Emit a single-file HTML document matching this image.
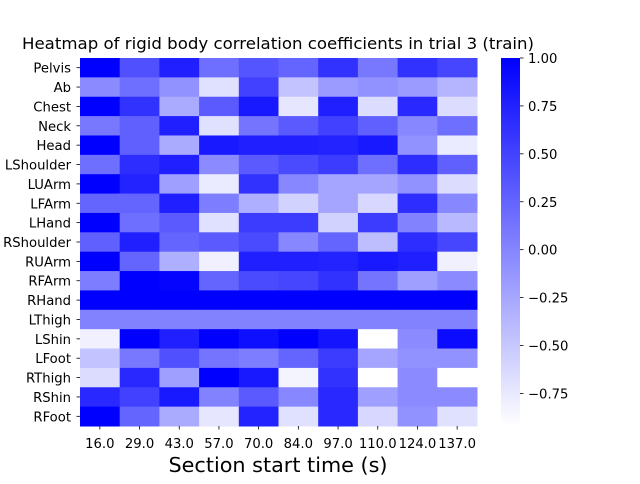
<!DOCTYPE html>
<html><head><meta charset="utf-8"><style>
body{margin:0;background:#fff;font-family:"DejaVu Sans","Liberation Sans",sans-serif;}
svg text{font-family:"DejaVu Sans","Liberation Sans",sans-serif;}
</style></head><body>
<svg width="640" height="480" xmlns="http://www.w3.org/2000/svg">
<defs><linearGradient id="cb" x1="0" y1="1" x2="0" y2="0"><stop offset="0" stop-color="#fff"/><stop offset="1" stop-color="#00f"/></linearGradient></defs>
<text x="278" y="49" text-anchor="middle" font-size="16" textLength="512" lengthAdjust="spacingAndGlyphs" fill="#000">Heatmap of rigid body correlation coefficients in trial 3 (train)</text>
<g id="cells"></g><g id="ylab"></g><g id="xlab"></g>
<rect x="501" y="58" width="19" height="368" fill="url(#cb)"/>
<g id="cbt"></g>
<text x="278" y="472" text-anchor="middle" font-size="20" textLength="219" lengthAdjust="spacingAndGlyphs" fill="#000">Section start time (s)</text>
</svg>
<script>
const rows=["Pelvis","Ab","Chest","Neck","Head","LShoulder","LUArm","LFArm","LHand","RShoulder","RUArm","RFArm","RHand","LThigh","LShin","LFoot","RThigh","RShin","RFoot"];
const cols=["16.0","29.0","43.0","57.0","70.0","84.0","97.0","110.0","124.0","137.0"];
const values=[
[1.00,0.40,0.77,0.17,0.36,0.25,0.62,0.10,0.62,0.47],
[-0.05,0.17,-0.09,-0.69,0.51,-0.47,-0.17,-0.09,-0.17,-0.36],
[1.00,0.62,-0.28,0.32,0.81,-0.73,0.77,-0.66,0.70,-0.66],
[0.10,0.28,0.77,-0.69,0.13,0.32,0.51,0.28,-0.02,0.17],
[1.00,0.28,-0.28,0.81,0.77,0.77,0.74,0.81,-0.09,-0.77],
[0.17,0.66,0.77,-0.05,0.32,0.44,0.55,0.17,0.66,0.28],
[1.00,0.74,-0.20,-0.77,0.62,-0.02,-0.24,-0.24,-0.09,-0.66],
[0.25,0.25,0.77,0.06,-0.32,-0.58,-0.24,-0.62,0.66,-0.02],
[1.00,0.17,0.32,-0.69,0.55,0.55,-0.58,0.55,0.02,-0.39],
[0.28,0.77,0.25,0.32,0.44,-0.02,0.25,-0.43,0.66,0.47],
[1.00,0.25,-0.32,-0.81,0.77,0.77,0.74,0.81,0.77,-0.81],
[0.06,1.00,0.96,0.25,0.44,0.47,0.62,0.13,-0.20,-0.05],
[1,1,1,1,1,1,1,1,1,1],
[0.02,0.02,0.02,0.02,0.02,0.02,0.02,0.02,0.02,0.02],
[-0.81,1.00,0.77,1.00,0.89,1.00,0.85,-0.92,-0.05,0.92],
[-0.47,0.10,0.40,0.13,0.06,0.25,0.55,-0.24,-0.09,-0.09],
[-0.66,0.70,-0.20,1.00,0.81,-0.84,0.62,-0.92,-0.05,-0.92],
[0.70,0.51,0.81,0.02,0.32,-0.02,0.70,-0.20,-0.05,-0.05],
[1.00,0.25,-0.28,-0.73,0.74,-0.69,0.70,-0.62,-0.09,-0.69]];
const cbTicks=[1.0,0.75,0.5,0.25,0.0,-0.25,-0.5,-0.75];
const vmin=-0.92,vmax=1.0;
const X0=80,X1=477,Y0=58,Y1=426;
const cw=(X1-X0)/cols.length,rh=(Y1-Y0)/rows.length;
const xs=i=>X0+i*cw, ys=j=>Y0+j*rh;
const cy=v=>Y0+(vmax-v)/(vmax-vmin)*(Y1-Y0);
function color(v){const t=Math.max(0,Math.min(1,(v-vmin)/(vmax-vmin)));const g=Math.round(255*(1-t));return `rgb(${g},${g},255)`;}
const NS="http://www.w3.org/2000/svg";
function mk(tag,attrs,parent){const e=document.createElementNS(NS,tag);for(const k in attrs)e.setAttribute(k,attrs[k]);document.getElementById(parent).appendChild(e);return e;}
values.forEach((row,j)=>row.forEach((v,i)=>{
 const r=mk("rect",{x:xs(i),y:ys(j),width:cw+0.5,height:rh+0.5,fill:color(v)},"cells");
 
 
}));
rows.forEach((n,j)=>{
 const y=ys(j)+rh/2;
 mk("line",{x1:X0-3.5,x2:X0,y1:y,y2:y,stroke:"#000","stroke-width":0.8},"ylab");
 const t=mk("text",{x:X0-9,y:y+5,"text-anchor":"end","font-size":13.2,fill:"#000"},"ylab");t.textContent=n;
 
 
});
cols.forEach((n,i)=>{
 const x=xs(i)+cw/2;
 mk("line",{x1:x,x2:x,y1:Y1,y2:Y1+3.5,stroke:"#000","stroke-width":0.8},"xlab");
 const t=mk("text",{x:x,y:Y1+22,"text-anchor":"middle","font-size":13.2,fill:"#000"},"xlab");t.textContent=n;
 
 
});
cbTicks.forEach(v=>{
 const y=cy(v);
 mk("line",{x1:520,x2:523.5,y1:y,y2:y,stroke:"#000","stroke-width":0.8},"cbt");
 const t=mk("text",{x:528,y:y+5,"font-size":13.2,fill:"#000"},"cbt");t.textContent=(v<0?"\u22120":"")+(v<0?Math.abs(v).toFixed(2).slice(1):v.toFixed(2));
 
 
});
</script>
</body></html>
